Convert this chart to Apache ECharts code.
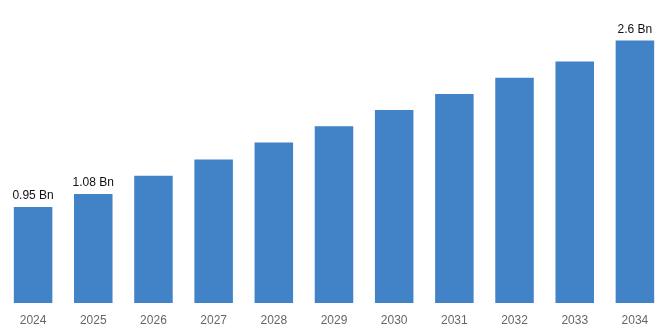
<!DOCTYPE html>
<html>
<head>
<meta charset="utf-8">
<script src="https://cdn.jsdelivr.net/npm/echarts@6/dist/echarts.min.js"></script>
<style>
  html, body { margin: 0; padding: 0; background: #fff; }
  #chart { width: 668px; height: 334px; }
</style>
</head>
<body>
<div id="chart"></div>
<script>
// Market size by year, in billions
const years = ['2024', '2025', '2026', '2027', '2028', '2029', '2030', '2031', '2032', '2033', '2034'];
const values = [0.95, 1.08, 1.26, 1.42, 1.59, 1.75, 1.91, 2.07, 2.23, 2.39, 2.6];
// Only these years carry a value label
const labelledYears = ['2024', '2025', '2034'];

const chart = echarts.init(document.getElementById('chart'));
chart.setOption({
  animation: false,
  grid: { left: 3, right: 3, top: 0, bottom: 31, containLabel: false },
  xAxis: {
    type: 'category',
    data: years,
    axisLine: { show: false },
    axisTick: { show: false },
    axisLabel: { color: '#666', fontSize: 12, fontFamily: 'Liberation Sans, Arial, sans-serif', margin: 12 }
  },
  yAxis: {
    type: 'value',
    min: 0,
    max: 3,
    show: false,
    splitLine: { show: false }
  },
  series: [{
    type: 'bar',
    data: values,
    barWidth: '64%',
    itemStyle: { color: '#4282c6' },
    label: {
      show: true,
      position: 'top',
      distance: 5,
      color: '#111',
      fontSize: 12,
      fontFamily: 'Liberation Sans, Arial, sans-serif',
      formatter: p => labelledYears.includes(p.name) ? p.value + ' Bn' : ''
    }
  }]
});
</script>
</body>
</html>
